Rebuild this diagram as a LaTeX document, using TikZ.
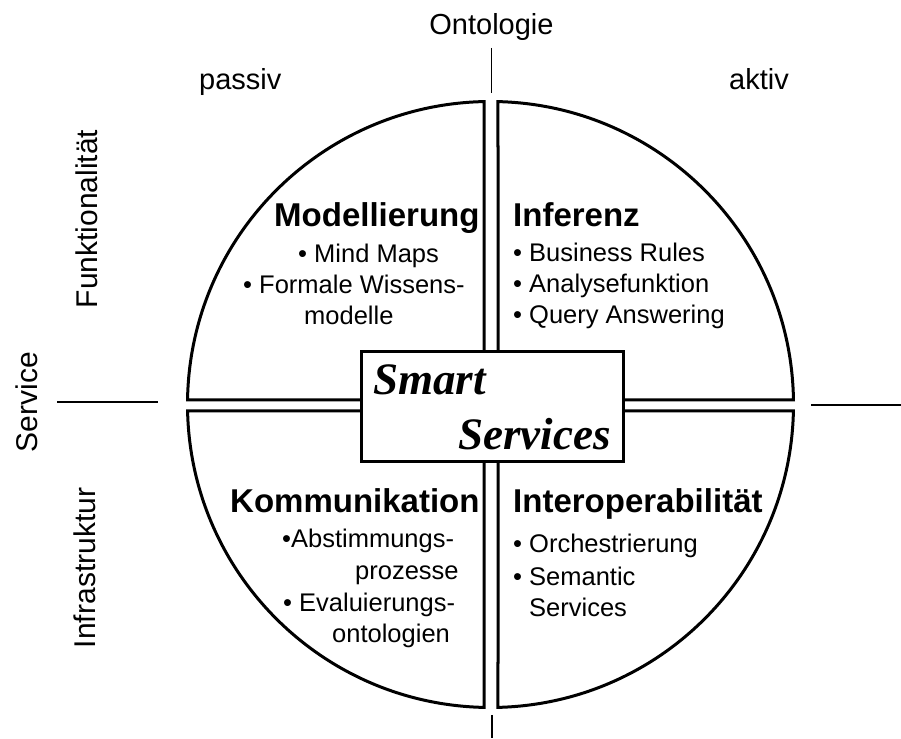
\documentclass[tikz,border=0pt]{standalone}
\usepackage{fontspec}
\setmainfont{Liberation Sans}
\newfontfamily\serifbi{Liberation Serif}[BoldItalicFont={* Bold Italic}]
\begin{document}
\begin{tikzpicture}[x=1pt,y=1pt,
  quad/.style={line width=3pt, line join=miter},
  axisline/.style={line width=1.1pt},
  axlabel/.style={inner sep=0pt, font=\fontsize{29}{31}\selectfont},
  sidelabel/.style={inner sep=0pt, anchor=base, rotate=90, font=\fontsize{30}{32}\selectfont},
  qtitle/.style={inner sep=0pt, anchor=base west, font=\fontsize{33}{36}\selectfont\bfseries},
  qitem/.style={inner sep=0pt, anchor=base west, font=\fontsize{25.5}{28}\selectfont},
  smart/.style={inner sep=0pt, anchor=base west, font=\fontsize{45}{48}\selectfont\serifbi\bfseries\itshape},
  centerbox/.style={draw, line width=3pt, fill=white, minimum width=262pt, minimum height=110pt, inner sep=0pt}
]
\useasboundingbox (0,0) rectangle (901,738);
\def\cx{490.5}\def\cy{333.5}\def\R{303}
% quadrants
\draw[quad] (484,338) -- ({\cx+\R*cos(91.229)},{\cy+\R*sin(91.229)}) arc[start angle=91.229, end angle=179.149, radius=\R] -- cycle;
\draw[quad] (498,338) -- ({\cx+\R*cos(88.582)},{\cy+\R*sin(88.582)}) arc[start angle=88.582, end angle=0.851, radius=\R] -- cycle;
\draw[quad] (484,327) -- ({\cx+\R*cos(181.229)},{\cy+\R*sin(181.229)}) arc[start angle=181.229, end angle=268.771, radius=\R] -- cycle;
\draw[quad] (498,327) -- ({\cx+\R*cos(271.418)},{\cy+\R*sin(271.418)}) arc[start angle=271.418, end angle=358.771, radius=\R] -- cycle;
% center box
\node[centerbox] (box) at (492,331) {};
\node[smart] (smart) at (373,343) {Smart};
\node[smart] (services) at (458,288) {Services};
% axis lines
\coordinate (topA) at (491.5,690); \coordinate (topB) at (491.5,645);
\coordinate (botA) at (492,23); \coordinate (botB) at (492,0);
\coordinate (leftA) at (57,336); \coordinate (leftB) at (158,336);
\coordinate (rightA) at (811,333); \coordinate (rightB) at (901,333);
\draw[axisline] (topA) -- (topB);
\draw[axisline] (botA) -- (botB);
\draw[axisline] (leftA) -- (leftB);
\draw[axisline] (rightA) -- (rightB);
% axis labels
\node[axlabel, anchor=base] (onto) at (491.5,703) {Ontologie};
\node[axlabel, anchor=base west] (passiv) at (199,648) {passiv};
\node[axlabel, anchor=base west] (aktiv) at (729,648) {aktiv};
\node[sidelabel] (funk) at (97,519) {Funktionalität};
\node[sidelabel] (serv) at (37,336) {Service};
\node[sidelabel] (infra) at (95,170) {Infrastruktur};
% top-left
\node[qtitle] (t1) at (274,511) {Modellierung};
\node[qitem] (t1a) at (298,475) {• Mind Maps};
\node[qitem] (t1b) at (243,444) {• Formale Wissens-};
\node[qitem] (t1c) at (304,413) {modelle};
% top-right
\node[qtitle] (t2) at (513,511) {Inferenz};
\node[qitem] (t2a) at (513,476) {• Business Rules};
\node[qitem] (t2b) at (513,445) {• Analysefunktion};
\node[qitem] (t2c) at (513,414) {• Query Answering};
% bottom-left
\node[qtitle] (t3) at (230,225) {Kommunikation};
\node[qitem] (t3a) at (282,190) {•Abstimmungs-};
\node[qitem] (t3b) at (355,158) {prozesse};
\node[qitem] (t3c) at (283,126) {• Evaluierungs-};
\node[qitem] (t3d) at (332,95) {ontologien};
% bottom-right
\node[qtitle] (t4) at (513,225) {Interoperabilität};
\node[qitem] (t4a) at (513,185) {• Orchestrierung};
\node[qitem] (t4b) at (513,152) {• Semantic};
\node[qitem] (t4c) at (529,121) {Services};
\end{tikzpicture}
\end{document}
